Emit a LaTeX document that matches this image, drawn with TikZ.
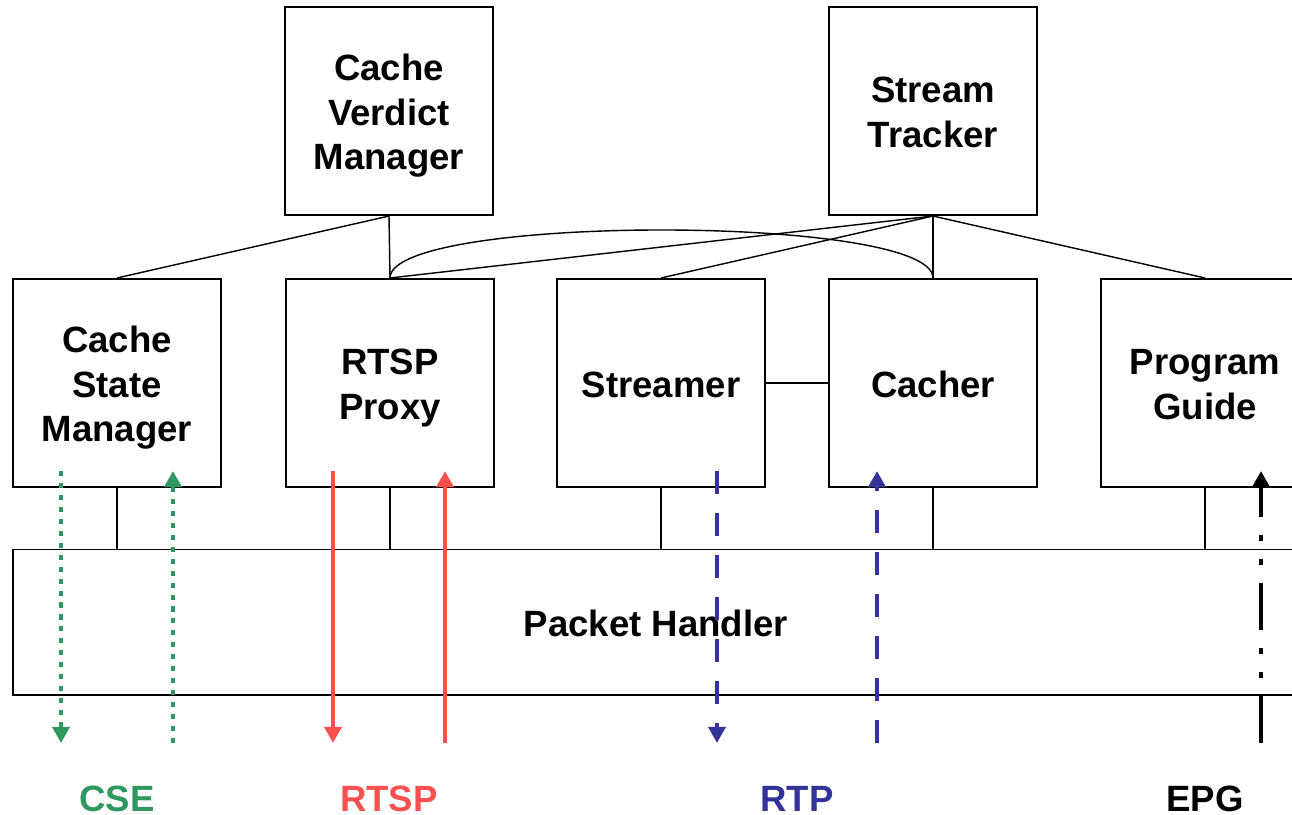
\documentclass[tikz,border=0pt]{standalone}
\usepackage{fontspec}
\setmainfont{Liberation Sans}
\usepackage{tikz}
\usetikzlibrary{arrows.meta}

\newcommand\lnstrut{\rule[-5.9pt]{0pt}{31.8pt}}

\tikzset{
  modbox/.style={draw, line width=1.4pt, minimum width=5.2cm, minimum height=5.2cm,
    align=center, font=\fontsize{26}{31.8}\selectfont\bfseries},
  link/.style={line width=1pt},
  flow/.style={line width=3.5pt, -{Triangle[width=12pt,length=11.5pt]}},
  proto/.style={inner sep=0pt, font=\fontsize{26}{31.8}\selectfont\bfseries}
}

\begin{document}
\begin{tikzpicture}[x=0.025cm, y=-0.025cm]
    % Colores de los protocolos
    \definecolor{csegreen}{RGB}{46,152,94}
    \definecolor{rtspred}{RGB}{255,80,80}
    \definecolor{rtpblue}{RGB}{51,51,153}

    \useasboundingbox (0,0) rectangle (1292,814);
    \clip (0,0) rectangle (1292,814);

    % Modulos de arriba
    \node[modbox] (verdict) at (389,111) {\lnstrut Cache\\Verdict\\Manager\lnstrut};
    \node[modbox] (tracker) at (933,111) {\lnstrut Stream\\Tracker\lnstrut};

    % Modulos del medio
    \node[modbox] (state) at (117,383) {\lnstrut Cache\\State\\Manager\lnstrut};
    \node[modbox] (proxy) at (390,383) {\lnstrut RTSP\\Proxy\lnstrut};
    \node[modbox] (streamer) at (661,383) {\lnstrut Streamer};
    \node[modbox] (cacher) at (933,383) {\lnstrut Cacher};
    \node[modbox] (guide) at (1205,383) {\lnstrut Program\\Guide\lnstrut};

    % Packet Handler
    \node[modbox, minimum width=32.15cm, minimum height=3.625cm] (handler) at (656,622) {\lnstrut Packet Handler};

    % Lineas entre modulos
    \draw[link] (verdict.south) -- (state.north);
    \draw[link] (verdict.south) -- (proxy.north);
    \draw[link] (tracker.south) -- (proxy.north);
    \draw[link] (tracker.south) -- (streamer.north);
    \draw[link] (tracker.south) -- (cacher.north);
    \draw[link] (tracker.south) -- (guide.north);
    \draw[link] (proxy.north) .. controls +(0,-64) and +(0,-64) .. (cacher.north);
    \draw[link] (streamer.east) -- (cacher.west);
    \foreach \m in {state,proxy,streamer,cacher,guide}
      \draw[link] (\m.south) -- (\m.south |- handler.north);

    % Extremos de las flechas
    \coordinate (cseA) at (61,471);   \coordinate (cseB) at (61,743);
    \coordinate (cseC) at (173,743);  \coordinate (cseD) at (173,471);
    \coordinate (rtspA) at (333,471); \coordinate (rtspB) at (333,743);
    \coordinate (rtspC) at (445,743); \coordinate (rtspD) at (445,471);
    \coordinate (rtpA) at (717,471);  \coordinate (rtpB) at (717,743);
    \coordinate (rtpC) at (877,743);  \coordinate (rtpD) at (877,471);
    \coordinate (epgC) at (1261,743); \coordinate (epgD) at (1261,471);

    % CSE
    \draw[flow, csegreen, dash pattern=on 3.6pt off 4.9pt] (cseA) -- (cseB);
    \draw[flow, csegreen, dash pattern=on 3.6pt off 4.9pt] (cseC) -- (cseD);
    \node[proto, text=csegreen] (cse) at (117,799) {CSE};

    % RTSP
    \draw[flow, rtspred] (rtspA) -- (rtspB);
    \draw[flow, rtspred] (rtspC) -- (rtspD);
    \node[proto, text=rtspred] (rtsp) at (389,799) {RTSP};

    % RTP
    \draw[flow, rtpblue, dash pattern=on 16.4pt off 13.5pt] (rtpA) -- (rtpB);
    \draw[flow, rtpblue, dash pattern=on 16.4pt off 13.5pt] (rtpC) -- (rtpD);
    \node[proto, text=rtpblue] (rtp) at (797,799) {RTP};

    % EPG
    \draw[flow, black, dash pattern=on 33.4pt off 12.8pt on 4.3pt off 12.8pt on 4.3pt off 12.8pt] (epgC) -- (epgD);
    \node[proto] (epg) at (1205,799) {EPG};
  \end{tikzpicture}
\end{document}
